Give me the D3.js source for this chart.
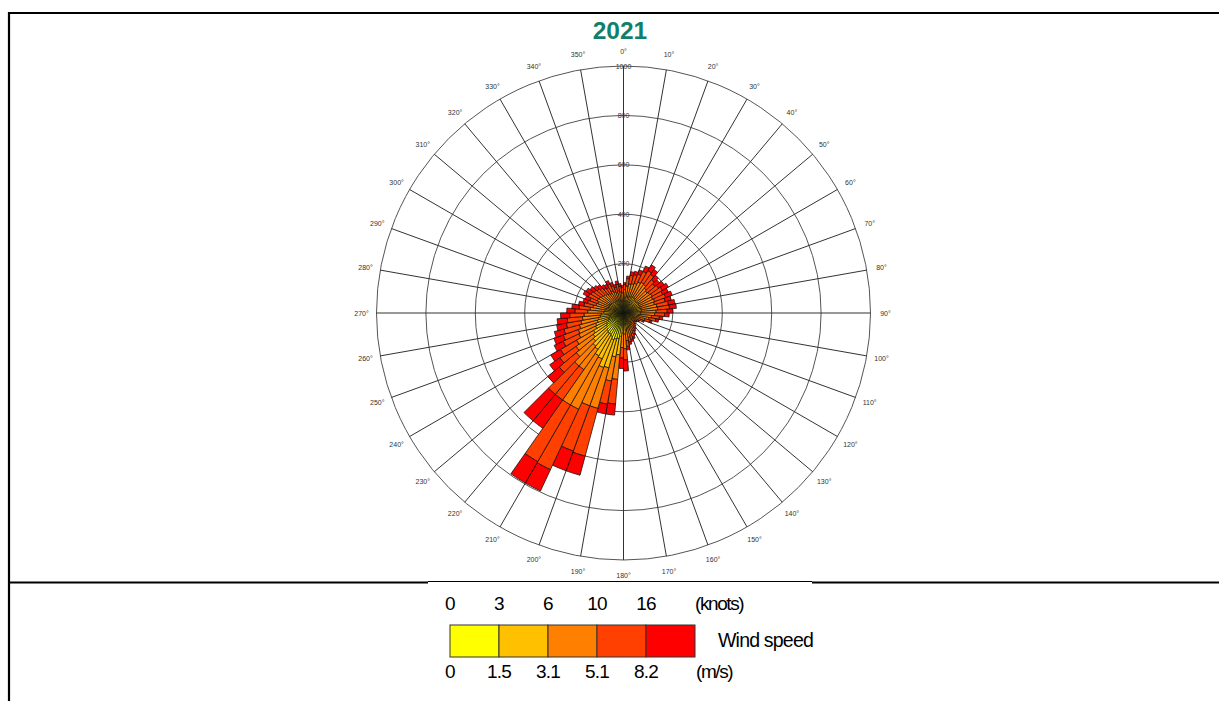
<!DOCTYPE html>
<html><head><meta charset="utf-8">
<script src="https://cdn.jsdelivr.net/npm/d3@7"></script>
<style>
html,body{margin:0;padding:0;background:#fff;}
svg{display:block;font-family:"Liberation Sans",Arial,sans-serif;}
</style></head>
<body>
<svg id="chart" width="1219" height="701"></svg>
<script>
// ---------------- DATA ----------------
const title = "2021";
// 72 direction bins of 5 degrees, given by their start bearing (0-5°, 5-10°, ...)
const directions = [0,5,10,15,20,25,30,35,40,45,50,55,60,65,70,75,80,85,90,95,100,105,110,115,120,125,130,135,140,145,150,155,160,165,170,175,180,185,190,195,200,205,210,215,220,225,230,235,240,245,250,255,260,265,270,275,280,285,290,295,300,305,310,315,320,325,330,335,340,345,350,355];
const binWidth = 5;
// counts per speed class, one value per direction bin
const cls1 = [30,30,30,28,28,28,28,28,27,27,27,28,28,28,28,28,28,28,28,28,27,27,26,25,25,24,25,26,27,28,30,30,32,33,35,40,40,95,105,110,115,105,100,100,95,90,85,80,70,65,60,55,50,45,40,38,35,33,32,32,32,31,30,30,30,29,30,29,28,29,28,28];
const cls2 = [30,35,40,40,42,45,45,45,42,40,42,44,42,44,42,45,45,42,40,36,33,28,22,18,16,15,16,18,20,22,25,28,30,32,35,45,42,75,75,120,120,100,100,80,80,70,65,60,55,55,50,48,45,45,40,38,35,32,30,33,32,30,30,28,26,25,27,25,23,25,23,22];
const cls3 = [35,45,50,55,58,65,70,68,62,58,60,62,60,62,60,64,66,62,58,50,45,35,25,18,15,13,15,17,20,22,26,30,32,35,42,60,58,100,100,170,165,225,230,100,105,90,85,80,75,75,75,72,72,70,65,60,55,50,48,52,50,48,45,42,40,38,42,38,34,38,35,32];
const cls4 = [20,30,35,38,40,48,55,50,45,42,45,48,45,48,45,48,48,45,40,32,28,22,12,8,7,6,7,8,9,11,13,16,17,19,24,45,42,100,95,200,195,270,265,150,150,90,80,75,70,65,65,60,62,58,52,45,38,36,35,40,38,36,34,32,28,27,30,26,23,26,23,21];
const cls5 = [8,10,15,14,18,24,27,24,24,23,26,28,25,28,25,27,28,23,19,14,12,8,5,3,2,2,2,3,4,5,6,8,9,11,14,45,43,45,40,80,85,95,100,140,140,60,50,45,40,40,40,40,41,37,33,29,22,19,20,23,23,20,19,18,16,16,16,14,12,14,11,9];
const speedColors = ["#ffff00","#ffc000","#ff8000","#ff4000","#ff0000"];
const ringValues = [200,400,600,800,1000];
const spokeAngles = [0,10,20,30,40,50,60,70,80,90,100,110,120,130,140,150,160,170,180,190,200,210,220,230,240,250,260,270,280,290,300,310,320,330,340,350];
const knotsLabels = ["0","3","6","10","16"];
const msLabels = ["0","1.5","3.1","5.1","8.2"];

// ---------------- DRAW ----------------
const svg = d3.select("#chart");
const cx = 623.5, cy = 313, R = 247;
const rad = Math.PI/180;

// frame
svg.append("line").attr("x1",8).attr("x2",1219).attr("y1",13).attr("y2",13).attr("stroke","#000").attr("stroke-width",2.2);
svg.append("line").attr("x1",9).attr("x2",9).attr("y1",12).attr("y2",701).attr("stroke","#000").attr("stroke-width",2.2);
svg.append("line").attr("x1",9).attr("x2",428).attr("y1",582.5).attr("y2",582.5).attr("stroke","#000").attr("stroke-width",2.2);
svg.append("line").attr("x1",428).attr("x2",812).attr("y1",581.5).attr("y2",581.5).attr("stroke","#000").attr("stroke-width",1);
svg.append("line").attr("x1",812).attr("x2",1219).attr("y1",582.5).attr("y2",582.5).attr("stroke","#000").attr("stroke-width",2.2);

// title
svg.append("text").attr("x",620).attr("y",39).attr("text-anchor","middle")
  .attr("font-size",24.5).attr("font-weight","bold").attr("fill","#11806a").text(title);

const r = d3.scaleLinear().domain([0,1000]).range([0,R]);
const g = svg.append("g").attr("transform",`translate(${cx},${cy})`);

// grid
g.selectAll("circle.ring").data(ringValues).join("circle").attr("class","ring")
  .attr("r",d=>r(d)).attr("fill","none").attr("stroke","#555").attr("stroke-width",1);
g.selectAll("line.spoke").data(spokeAngles).join("line").attr("class","spoke")
  .attr("x1",0).attr("y1",0)
  .attr("x2",d=>R*Math.sin(d*rad)).attr("y2",d=>-R*Math.cos(d*rad))
  .attr("stroke","#333").attr("stroke-width",1);

// bars
const classes = [cls1,cls2,cls3,cls4,cls5];
const segs = [];
directions.forEach((dir,i)=>{
  let acc = 0;
  classes.forEach((c,k)=>{
    segs.push({dir, k, inner: acc, outer: acc + c[i]});
    acc += c[i];
  });
});
const arc = d3.arc()
  .innerRadius(d=>r(d.inner)).outerRadius(d=>r(d.outer))
  .startAngle(d=>d.dir*rad).endAngle(d=>(d.dir+binWidth)*rad);
g.selectAll("path.seg").data(segs).join("path").attr("class","seg")
  .attr("d",arc).attr("fill",d=>speedColors[d.k]).attr("stroke","#111").attr("stroke-width",0.75);

// ring labels
g.selectAll("text.rl").data(ringValues).join("text").attr("class","rl")
  .attr("x",0).attr("y",d=>-r(d)+2.5).attr("text-anchor","middle")
  .attr("font-size",7).attr("fill","#333").text(d=>d);

// direction labels
g.selectAll("text.dl").data(spokeAngles).join("text").attr("class","dl")
  .attr("x",d=>262*Math.sin(d*rad)).attr("y",d=>-262*Math.cos(d*rad)+2.5)
  .attr("text-anchor","middle").attr("font-size",7).attr("fill","#333").text(d=>d+"°");

// legend
const lx = d3.scaleLinear().domain([0,5]).range([450,695]);
const lg = svg.append("g");
lg.selectAll("rect").data(speedColors).join("rect")
  .attr("x",(d,i)=>lx(i)).attr("y",625).attr("width",lx(1)-lx(0)).attr("height",32)
  .attr("fill",d=>d).attr("stroke","#333").attr("stroke-width",1);
lg.selectAll("text.kn").data(knotsLabels).join("text").attr("class","kn")
  .attr("x",(d,i)=>lx(i)).attr("y",610).attr("text-anchor","middle")
  .attr("font-size",19).attr("letter-spacing",-0.8).attr("fill","#000").text(d=>d);
lg.selectAll("text.ms").data(msLabels).join("text").attr("class","ms")
  .attr("x",(d,i)=>lx(i)).attr("y",678).attr("text-anchor","middle")
  .attr("font-size",19).attr("letter-spacing",-0.8).attr("fill","#000").text(d=>d);
lg.append("text").attr("x",lx(5)).attr("y",610).attr("font-size",19).attr("letter-spacing",-1.4).text("(knots)");
lg.append("text").attr("x",lx(5)+1).attr("y",678).attr("font-size",19).attr("letter-spacing",-1.4).text("(m/s)");
lg.append("text").attr("x",718).attr("y",647).attr("font-size",19.5).attr("letter-spacing",-0.8).text("Wind speed");
</script>
</body></html>
